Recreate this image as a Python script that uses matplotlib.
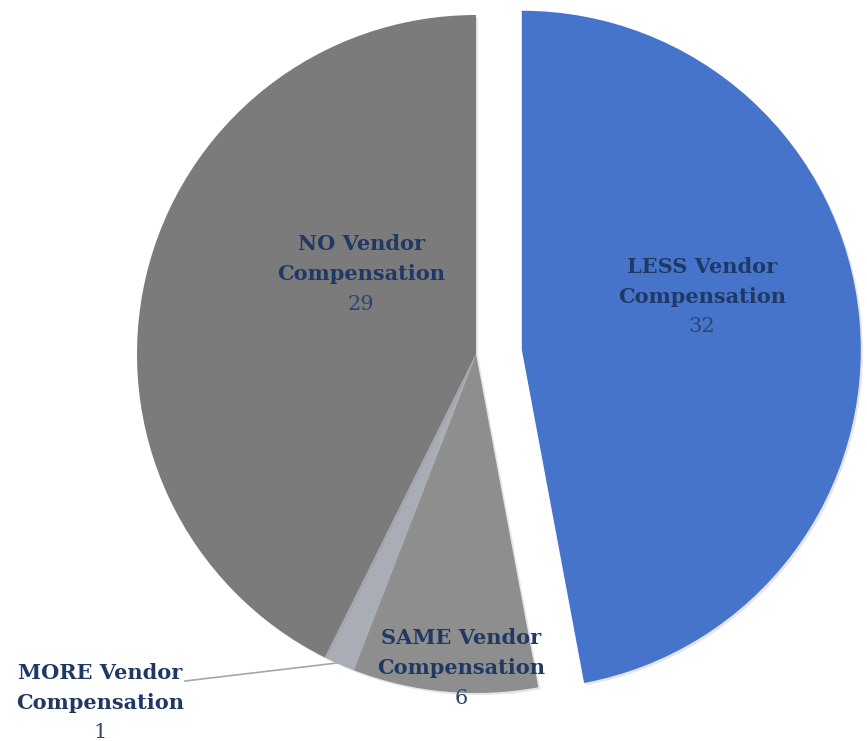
import matplotlib
matplotlib.use('Agg')
import matplotlib.pyplot as plt
import matplotlib.patheffects as pe

plt.rcParams['font.family'] = ['DejaVu Serif']

# data
categories = ['LESS Vendor\nCompensation', 'SAME Vendor\nCompensation',
              'MORE Vendor\nCompensation', 'NO Vendor\nCompensation']
values = [32, 6, 1, 29]
colors = ['#4774CB', '#8E8E8E', '#A9AEB6', '#7B7B7B']
explode = [46, 0, 0, 0]  # pixel offset, pie() takes explode in data units

W, H = 867, 741
fig = plt.figure(figsize=(W / 100, H / 100), dpi=100)
ax = fig.add_axes([0, 0, 1, 1])

cx, cy, r = 476, H - 354, 339
wedges, _ = ax.pie(values, colors=colors, explode=explode, startangle=90,
                   counterclock=False, center=(cx, cy), radius=r,
                   wedgeprops=dict(linewidth=0), frame=True)
for w in wedges:
    w.set_path_effects([pe.SimplePatchShadow(offset=(1.5, -1.5), shadow_rgbFace='#999999', alpha=0.25),
                        pe.Normal()])
ax.set_xlim(0, W)
ax.set_ylim(0, H)
ax.set_aspect('equal')
ax.axis('off')

name_col = '#1F3864'
num_col = '#2E4470'
# label positions in pixel coords (x, y of the "Compensation" line)
label_pos = [(702, 297), (461, 668), (100, 703), (361, 274)]
for name, val, (x, y) in zip(categories, values, label_pos):
    first, second = name.split('\n')
    ax.text(x, H - (y - 30), first, ha='center', va='center', fontsize=15,
            fontweight='bold', color=name_col)
    ax.text(x, H - y, second, ha='center', va='center', fontsize=15,
            fontweight='bold', color=name_col)
    ax.text(x, H - (y + 30), str(val), ha='center', va='center', fontsize=15,
            color=num_col)

# leader line for the small slice
ax.plot([185, 337], [H - 681, H - 663], color='#A6A6A6', linewidth=1.2)

fig.savefig('out.png', dpi=100)
